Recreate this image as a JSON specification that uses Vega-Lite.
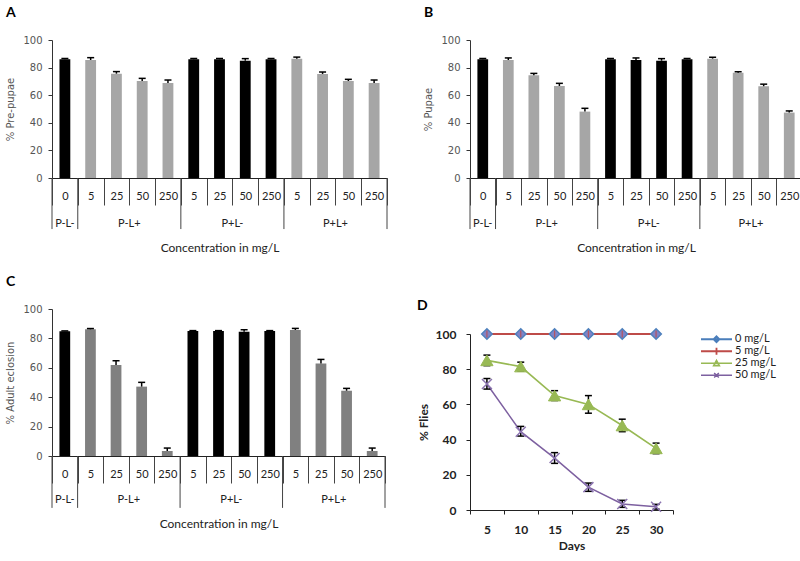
{
  "$schema": "https://vega.github.io/schema/vega-lite/v6.json",
  "background": "white",
  "padding": {"left": 5, "top": 6, "right": 0, "bottom": 0},
  "config": {"view": {"stroke": null}, "axis": {"grid": false}},
  "datasets": {
    "bars": [
      {"panel":"A","key":"0 P-L-","light":"L-","value":86,"hi":86.6},
      {"panel":"A","key":"5 P-L+","light":"L+","value":85.5,"hi":87.2},
      {"panel":"A","key":"25 P-L+","light":"L+","value":75.6,"hi":77.1},
      {"panel":"A","key":"50 P-L+","light":"L+","value":70.3,"hi":72.2},
      {"panel":"A","key":"250 P-L+","light":"L+","value":68.8,"hi":71},
      {"panel":"A","key":"5 P+L-","light":"L-","value":86,"hi":86.6},
      {"panel":"A","key":"25 P+L-","light":"L-","value":86,"hi":86.6},
      {"panel":"A","key":"50 P+L-","light":"L-","value":85,"hi":86.5},
      {"panel":"A","key":"250 P+L-","light":"L-","value":86,"hi":86.6},
      {"panel":"A","key":"5 P+L+","light":"L+","value":86.5,"hi":87.6},
      {"panel":"A","key":"25 P+L+","light":"L+","value":75.4,"hi":76.8},
      {"panel":"A","key":"50 P+L+","light":"L+","value":70.3,"hi":71.5},
      {"panel":"A","key":"250 P+L+","light":"L+","value":68.8,"hi":71},
      {"panel":"B","key":"0 P-L-","light":"L-","value":86,"hi":86.6},
      {"panel":"B","key":"5 P-L+","light":"L+","value":85.5,"hi":87},
      {"panel":"B","key":"25 P-L+","light":"L+","value":74.4,"hi":75.8},
      {"panel":"B","key":"50 P-L+","light":"L+","value":66.7,"hi":68.6},
      {"panel":"B","key":"250 P-L+","light":"L+","value":48.1,"hi":50.5},
      {"panel":"B","key":"5 P+L-","light":"L-","value":86,"hi":86.6},
      {"panel":"B","key":"25 P+L-","light":"L-","value":85.5,"hi":87},
      {"panel":"B","key":"50 P+L-","light":"L-","value":85,"hi":86.5},
      {"panel":"B","key":"250 P+L-","light":"L-","value":86,"hi":86.6},
      {"panel":"B","key":"5 P+L+","light":"L+","value":86.5,"hi":87.5},
      {"panel":"B","key":"25 P+L+","light":"L+","value":76.3,"hi":77},
      {"panel":"B","key":"50 P+L+","light":"L+","value":66.5,"hi":68},
      {"panel":"B","key":"250 P+L+","light":"L+","value":47.4,"hi":48.6},
      {"panel":"C","key":"0 P-L-","light":"L-","value":84.8,"hi":85.1},
      {"panel":"C","key":"5 P-L+","light":"L+","value":86.2,"hi":86.7},
      {"panel":"C","key":"25 P-L+","light":"L+","value":61.9,"hi":64.8},
      {"panel":"C","key":"50 P-L+","light":"L+","value":47.2,"hi":50.1},
      {"panel":"C","key":"250 P-L+","light":"L+","value":3.4,"hi":5.4},
      {"panel":"C","key":"5 P+L-","light":"L-","value":85,"hi":85.3},
      {"panel":"C","key":"25 P+L-","light":"L-","value":85,"hi":85.3},
      {"panel":"C","key":"50 P+L-","light":"L-","value":84.6,"hi":85.9},
      {"panel":"C","key":"250 P+L-","light":"L-","value":85,"hi":85.3},
      {"panel":"C","key":"5 P+L+","light":"L+","value":85.7,"hi":86.8},
      {"panel":"C","key":"25 P+L+","light":"L+","value":63,"hi":65.7},
      {"panel":"C","key":"50 P+L+","light":"L+","value":44.4,"hi":46},
      {"panel":"C","key":"250 P+L+","light":"L+","value":3.4,"hi":5.4}
    ],
    "groups": [
      {"group":"P-L-","key":"0 P-L-"},
      {"group":"P-L+","key":"50 P-L+"},
      {"group":"P+L-","key":"50 P+L-"},
      {"group":"P+L+","key":"50 P+L+"}
    ],
    "seps": [
      {"key":"0 P-L-"},
      {"key":"5 P-L+"},
      {"key":"5 P+L-"},
      {"key":"5 P+L+"}
    ],
    "sepEnd": [
      {"key":"250 P+L+"}
    ],
    "flies": [
      {"series":"0 mg/L","day":5,"value":100},
      {"series":"0 mg/L","day":10,"value":100},
      {"series":"0 mg/L","day":15,"value":100},
      {"series":"0 mg/L","day":20,"value":100},
      {"series":"0 mg/L","day":25,"value":100},
      {"series":"0 mg/L","day":30,"value":100},
      {"series":"5 mg/L","day":5,"value":100},
      {"series":"5 mg/L","day":10,"value":100},
      {"series":"5 mg/L","day":15,"value":100},
      {"series":"5 mg/L","day":20,"value":100},
      {"series":"5 mg/L","day":25,"value":100},
      {"series":"5 mg/L","day":30,"value":100},
      {"series":"25 mg/L","day":5,"value":85,"lo":82,"hi":88},
      {"series":"25 mg/L","day":10,"value":81.5,"lo":79,"hi":84},
      {"series":"25 mg/L","day":15,"value":65,"lo":62.2,"hi":67.8},
      {"series":"25 mg/L","day":20,"value":60,"lo":55,"hi":65},
      {"series":"25 mg/L","day":25,"value":48,"lo":44.5,"hi":51.6},
      {"series":"25 mg/L","day":30,"value":35,"lo":32,"hi":38},
      {"series":"50 mg/L","day":5,"value":71.6,"lo":68.7,"hi":74.7},
      {"series":"50 mg/L","day":10,"value":44.5,"lo":42,"hi":47.5},
      {"series":"50 mg/L","day":15,"value":29.5,"lo":26.5,"hi":32.6},
      {"series":"50 mg/L","day":20,"value":13,"lo":10.6,"hi":15.3},
      {"series":"50 mg/L","day":25,"value":3.4,"lo":1.5,"hi":5.5},
      {"series":"50 mg/L","day":30,"value":1.8,"lo":0.5,"hi":3.2}
    ]
  },
  "spacing": 29,
  "resolve": {"scale": {"color": "independent", "strokeWidth": "independent"}, "legend": {"color": "independent", "strokeWidth": "independent"}},
  "hconcat": [
    {
      "spacing": 21,
      "resolve": {"scale": {"color": "independent"}, "legend": {"color": "independent"}},
      "vconcat": [
        {
          "width": 335, "height": 138,
          "title": {"text": "A", "anchor": "start", "frame": "bounds", "font": "Lato", "fontSize": 14, "fontWeight": "bold", "color": "#000", "offset": 15},
          "layer": [
            {
              "data": {"name": "bars"}, "transform": [{"filter": "datum.panel === 'A'"}],
              "mark": {"type": "bar", "width": {"band": 0.42}, "clip": false},
              "encoding": {
                "x": {"field": "key", "type": "nominal", "title": "Concentration in mg/L",
                  "scale": {"domain": ["0 P-L-","5 P-L+","25 P-L+","50 P-L+","250 P-L+","5 P+L-","25 P+L-","50 P+L-","250 P+L-","5 P+L+","25 P+L+","50 P+L+","250 P+L+"], "paddingInner": 0, "paddingOuter": 0},
                  "axis": {"tickBand": "extent", "tickSize": 27, "tickColor": "#444", "domainColor": "#222", "labelAngle": 0, "labelBaseline": "middle", "labelPadding": -9, "labelOverlap": false, "labelFont": "Lato", "labelFontSize": 11, "labelColor": "#222", "labelExpr": "split(datum.label, ' ')[0]", "titleFont": "Lato", "titleFontSize": 12, "titleFontWeight": "normal", "titleColor": "#222", "titlePadding": 37}},
                "y": {"field": "value", "type": "quantitative", "title": "% Pre-pupae", "scale": {"domain": [0, 100]},
                  "axis": {"tickCount": 6, "labelOverlap": false, "tickSize": 4, "domainColor": "#333", "tickColor": "#333", "labelColor": "#555", "labelFont": "DejaVu Sans", "labelFontSize": 10, "labelPadding": 6, "titleFont": "DejaVu Sans", "titleFontSize": 10, "titleFontWeight": "normal", "titleColor": "#555", "titlePadding": 7}},
                "color": {"field": "light", "type": "nominal", "scale": {"domain": ["L-","L+"], "range": ["#000000","#a6a6a6"]}, "legend": null}
              }
            },
            {
              "data": {"name": "bars"}, "transform": [{"filter": "datum.panel === 'A'"}],
              "mark": {"type": "rule", "color": "#000", "strokeWidth": 1.5, "clip": false},
              "encoding": {
                "x": {"field": "key", "type": "nominal", "title": "Concentration in mg/L", "scale": {"domain": ["0 P-L-","5 P-L+","25 P-L+","50 P-L+","250 P-L+","5 P+L-","25 P+L-","50 P+L-","250 P+L-","5 P+L+","25 P+L+","50 P+L+","250 P+L+"], "paddingInner": 0, "paddingOuter": 0}},
                "y": {"field": "value", "type": "quantitative", "title": "% Pre-pupae", "scale": {"domain": [0, 100]}},
                "y2": {"field": "hi"}
              }
            },
            {
              "data": {"name": "bars"}, "transform": [{"filter": "datum.panel === 'A'"}],
              "mark": {"type": "tick", "color": "#000", "size": 7, "thickness": 1.5, "opacity": 1, "clip": false},
              "encoding": {
                "x": {"field": "key", "type": "nominal", "title": "Concentration in mg/L", "scale": {"domain": ["0 P-L-","5 P-L+","25 P-L+","50 P-L+","250 P-L+","5 P+L-","25 P+L-","50 P+L-","250 P+L-","5 P+L+","25 P+L+","50 P+L+","250 P+L+"], "paddingInner": 0, "paddingOuter": 0}},
                "y": {"field": "hi", "type": "quantitative", "title": "% Pre-pupae", "scale": {"domain": [0, 100]}}
              }
            },
            {
              "data": {"name": "seps"},
              "mark": {"type": "rule", "color": "#444", "strokeWidth": 1, "clip": false},
              "encoding": {
                "x": {"field": "key", "type": "nominal", "bandPosition": 0, "title": "Concentration in mg/L", "scale": {"domain": ["0 P-L-","5 P-L+","25 P-L+","50 P-L+","250 P-L+","5 P+L-","25 P+L-","50 P+L-","250 P+L-","5 P+L+","25 P+L+","50 P+L+","250 P+L+"], "paddingInner": 0, "paddingOuter": 0}},
                "y": {"datum": 0, "type": "quantitative", "title": "% Pre-pupae", "scale": {"domain": [0, 100]}},
                "y2": {"datum": -37}
              }
            },
            {
              "data": {"name": "sepEnd"},
              "mark": {"type": "rule", "color": "#444", "strokeWidth": 1, "clip": false},
              "encoding": {
                "x": {"field": "key", "type": "nominal", "bandPosition": 1, "title": "Concentration in mg/L", "scale": {"domain": ["0 P-L-","5 P-L+","25 P-L+","50 P-L+","250 P-L+","5 P+L-","25 P+L-","50 P+L-","250 P+L-","5 P+L+","25 P+L+","50 P+L+","250 P+L+"], "paddingInner": 0, "paddingOuter": 0}},
                "y": {"datum": 0, "type": "quantitative", "title": "% Pre-pupae", "scale": {"domain": [0, 100]}},
                "y2": {"datum": -37}
              }
            },
            {
              "data": {"name": "groups"}, "transform": [{"filter": "datum.group === 'P-L-'"}],
              "mark": {"type": "text", "font": "Lato", "fontSize": 11, "color": "#222", "baseline": "middle", "clip": false},
              "encoding": {
                "x": {"field": "key", "type": "nominal", "bandPosition": 0.5, "title": "Concentration in mg/L", "scale": {"domain": ["0 P-L-","5 P-L+","25 P-L+","50 P-L+","250 P-L+","5 P+L-","25 P+L-","50 P+L-","250 P+L-","5 P+L+","25 P+L+","50 P+L+","250 P+L+"], "paddingInner": 0, "paddingOuter": 0}},
                "y": {"datum": -33, "type": "quantitative", "title": "% Pre-pupae", "scale": {"domain": [0, 100]}},
                "text": {"field": "group"}
              }
            },
            {
              "data": {"name": "groups"}, "transform": [{"filter": "datum.group !== 'P-L-'"}],
              "mark": {"type": "text", "font": "Lato", "fontSize": 11, "color": "#222", "baseline": "middle", "clip": false},
              "encoding": {
                "x": {"field": "key", "type": "nominal", "bandPosition": 0, "title": "Concentration in mg/L", "scale": {"domain": ["0 P-L-","5 P-L+","25 P-L+","50 P-L+","250 P-L+","5 P+L-","25 P+L-","50 P+L-","250 P+L-","5 P+L+","25 P+L+","50 P+L+","250 P+L+"], "paddingInner": 0, "paddingOuter": 0}},
                "y": {"datum": -33, "type": "quantitative", "title": "% Pre-pupae", "scale": {"domain": [0, 100]}},
                "text": {"field": "group"}
              }
            }
          ]
        },
        {
          "width": 333, "height": 147,
          "title": {"text": "C", "anchor": "start", "frame": "bounds", "font": "Lato", "fontSize": 14, "fontWeight": "bold", "color": "#000", "offset": 15},
          "layer": [
            {
              "data": {"name": "bars"}, "transform": [{"filter": "datum.panel === 'C'"}],
              "mark": {"type": "bar", "width": {"band": 0.42}, "clip": false},
              "encoding": {
                "x": {"field": "key", "type": "nominal", "title": "Concentration in mg/L",
                  "scale": {"domain": ["0 P-L-","5 P-L+","25 P-L+","50 P-L+","250 P-L+","5 P+L-","25 P+L-","50 P+L-","250 P+L-","5 P+L+","25 P+L+","50 P+L+","250 P+L+"], "paddingInner": 0, "paddingOuter": 0},
                  "axis": {"tickBand": "extent", "tickSize": 27, "tickColor": "#444", "domainColor": "#222", "labelAngle": 0, "labelBaseline": "middle", "labelPadding": -9, "labelOverlap": false, "labelFont": "Lato", "labelFontSize": 11, "labelColor": "#222", "labelExpr": "split(datum.label, ' ')[0]", "titleFont": "Lato", "titleFontSize": 12, "titleFontWeight": "normal", "titleColor": "#222", "titlePadding": 35}},
                "y": {"field": "value", "type": "quantitative", "title": "% Adult  eclosion", "scale": {"domain": [0, 100]},
                  "axis": {"tickCount": 6, "labelOverlap": false, "tickSize": 4, "domainColor": "#333", "tickColor": "#333", "labelColor": "#555", "labelFont": "DejaVu Sans", "labelFontSize": 10, "labelPadding": 6, "titleFont": "DejaVu Sans", "titleFontSize": 10, "titleFontWeight": "normal", "titleColor": "#555", "titlePadding": 7}},
                "color": {"field": "light", "type": "nominal", "scale": {"domain": ["L-","L+"], "range": ["#000000","#808080"]}, "legend": null}
              }
            },
            {
              "data": {"name": "bars"}, "transform": [{"filter": "datum.panel === 'C'"}],
              "mark": {"type": "rule", "color": "#000", "strokeWidth": 1.5, "clip": false},
              "encoding": {
                "x": {"field": "key", "type": "nominal", "title": "Concentration in mg/L", "scale": {"domain": ["0 P-L-","5 P-L+","25 P-L+","50 P-L+","250 P-L+","5 P+L-","25 P+L-","50 P+L-","250 P+L-","5 P+L+","25 P+L+","50 P+L+","250 P+L+"], "paddingInner": 0, "paddingOuter": 0}},
                "y": {"field": "value", "type": "quantitative", "title": "% Adult  eclosion", "scale": {"domain": [0, 100]}},
                "y2": {"field": "hi"}
              }
            },
            {
              "data": {"name": "bars"}, "transform": [{"filter": "datum.panel === 'C'"}],
              "mark": {"type": "tick", "color": "#000", "size": 7, "thickness": 1.5, "opacity": 1, "clip": false},
              "encoding": {
                "x": {"field": "key", "type": "nominal", "title": "Concentration in mg/L", "scale": {"domain": ["0 P-L-","5 P-L+","25 P-L+","50 P-L+","250 P-L+","5 P+L-","25 P+L-","50 P+L-","250 P+L-","5 P+L+","25 P+L+","50 P+L+","250 P+L+"], "paddingInner": 0, "paddingOuter": 0}},
                "y": {"field": "hi", "type": "quantitative", "title": "% Adult  eclosion", "scale": {"domain": [0, 100]}}
              }
            },
            {
              "data": {"name": "seps"},
              "mark": {"type": "rule", "color": "#444", "strokeWidth": 1, "clip": false},
              "encoding": {
                "x": {"field": "key", "type": "nominal", "bandPosition": 0, "title": "Concentration in mg/L", "scale": {"domain": ["0 P-L-","5 P-L+","25 P-L+","50 P-L+","250 P-L+","5 P+L-","25 P+L-","50 P+L-","250 P+L-","5 P+L+","25 P+L+","50 P+L+","250 P+L+"], "paddingInner": 0, "paddingOuter": 0}},
                "y": {"datum": 0, "type": "quantitative", "title": "% Adult  eclosion", "scale": {"domain": [0, 100]}},
                "y2": {"datum": -35.3}
              }
            },
            {
              "data": {"name": "sepEnd"},
              "mark": {"type": "rule", "color": "#444", "strokeWidth": 1, "clip": false},
              "encoding": {
                "x": {"field": "key", "type": "nominal", "bandPosition": 1, "title": "Concentration in mg/L", "scale": {"domain": ["0 P-L-","5 P-L+","25 P-L+","50 P-L+","250 P-L+","5 P+L-","25 P+L-","50 P+L-","250 P+L-","5 P+L+","25 P+L+","50 P+L+","250 P+L+"], "paddingInner": 0, "paddingOuter": 0}},
                "y": {"datum": 0, "type": "quantitative", "title": "% Adult  eclosion", "scale": {"domain": [0, 100]}},
                "y2": {"datum": -35.3}
              }
            },
            {
              "data": {"name": "groups"}, "transform": [{"filter": "datum.group === 'P-L-'"}],
              "mark": {"type": "text", "font": "Lato", "fontSize": 11, "color": "#222", "baseline": "middle", "clip": false},
              "encoding": {
                "x": {"field": "key", "type": "nominal", "bandPosition": 0.5, "title": "Concentration in mg/L", "scale": {"domain": ["0 P-L-","5 P-L+","25 P-L+","50 P-L+","250 P-L+","5 P+L-","25 P+L-","50 P+L-","250 P+L-","5 P+L+","25 P+L+","50 P+L+","250 P+L+"], "paddingInner": 0, "paddingOuter": 0}},
                "y": {"datum": -30, "type": "quantitative", "title": "% Adult  eclosion", "scale": {"domain": [0, 100]}},
                "text": {"field": "group"}
              }
            },
            {
              "data": {"name": "groups"}, "transform": [{"filter": "datum.group !== 'P-L-'"}],
              "mark": {"type": "text", "font": "Lato", "fontSize": 11, "color": "#222", "baseline": "middle", "clip": false},
              "encoding": {
                "x": {"field": "key", "type": "nominal", "bandPosition": 0, "title": "Concentration in mg/L", "scale": {"domain": ["0 P-L-","5 P-L+","25 P-L+","50 P-L+","250 P-L+","5 P+L-","25 P+L-","50 P+L-","250 P+L-","5 P+L+","25 P+L+","50 P+L+","250 P+L+"], "paddingInner": 0, "paddingOuter": 0}},
                "y": {"datum": -30, "type": "quantitative", "title": "% Adult  eclosion", "scale": {"domain": [0, 100]}},
                "text": {"field": "group"}
              }
            }
          ]
        }
      ]
    },
    {
      "spacing": 44,
      "resolve": {"scale": {"color": "independent", "strokeWidth": "independent"}, "legend": {"color": "independent", "strokeWidth": "independent"}},
      "vconcat": [
        {
          "width": 332, "height": 138,
          "title": {"text": "B", "anchor": "start", "frame": "bounds", "font": "Lato", "fontSize": 14, "fontWeight": "bold", "color": "#000", "offset": 15},
          "layer": [
            {
              "data": {"name": "bars"}, "transform": [{"filter": "datum.panel === 'B'"}],
              "mark": {"type": "bar", "width": {"band": 0.42}, "clip": false},
              "encoding": {
                "x": {"field": "key", "type": "nominal", "title": "Concentration in mg/L",
                  "scale": {"domain": ["0 P-L-","5 P-L+","25 P-L+","50 P-L+","250 P-L+","5 P+L-","25 P+L-","50 P+L-","250 P+L-","5 P+L+","25 P+L+","50 P+L+","250 P+L+"], "paddingInner": 0, "paddingOuter": 0},
                  "axis": {"tickBand": "extent", "tickSize": 27, "tickColor": "#444", "domainColor": "#222", "labelAngle": 0, "labelBaseline": "middle", "labelPadding": -9, "labelOverlap": false, "labelFont": "Lato", "labelFontSize": 11, "labelColor": "#222", "labelExpr": "split(datum.label, ' ')[0]", "titleFont": "Lato", "titleFontSize": 12, "titleFontWeight": "normal", "titleColor": "#222", "titlePadding": 37}},
                "y": {"field": "value", "type": "quantitative", "title": "% Pupae", "scale": {"domain": [0, 100]},
                  "axis": {"tickCount": 6, "labelOverlap": false, "tickSize": 4, "domainColor": "#333", "tickColor": "#333", "labelColor": "#555", "labelFont": "DejaVu Sans", "labelFontSize": 10, "labelPadding": 6, "titleFont": "DejaVu Sans", "titleFontSize": 10, "titleFontWeight": "normal", "titleColor": "#555", "titlePadding": 7}},
                "color": {"field": "light", "type": "nominal", "scale": {"domain": ["L-","L+"], "range": ["#000000","#a6a6a6"]}, "legend": null}
              }
            },
            {
              "data": {"name": "bars"}, "transform": [{"filter": "datum.panel === 'B'"}],
              "mark": {"type": "rule", "color": "#000", "strokeWidth": 1.5, "clip": false},
              "encoding": {
                "x": {"field": "key", "type": "nominal", "title": "Concentration in mg/L", "scale": {"domain": ["0 P-L-","5 P-L+","25 P-L+","50 P-L+","250 P-L+","5 P+L-","25 P+L-","50 P+L-","250 P+L-","5 P+L+","25 P+L+","50 P+L+","250 P+L+"], "paddingInner": 0, "paddingOuter": 0}},
                "y": {"field": "value", "type": "quantitative", "title": "% Pupae", "scale": {"domain": [0, 100]}},
                "y2": {"field": "hi"}
              }
            },
            {
              "data": {"name": "bars"}, "transform": [{"filter": "datum.panel === 'B'"}],
              "mark": {"type": "tick", "color": "#000", "size": 7, "thickness": 1.5, "opacity": 1, "clip": false},
              "encoding": {
                "x": {"field": "key", "type": "nominal", "title": "Concentration in mg/L", "scale": {"domain": ["0 P-L-","5 P-L+","25 P-L+","50 P-L+","250 P-L+","5 P+L-","25 P+L-","50 P+L-","250 P+L-","5 P+L+","25 P+L+","50 P+L+","250 P+L+"], "paddingInner": 0, "paddingOuter": 0}},
                "y": {"field": "hi", "type": "quantitative", "title": "% Pupae", "scale": {"domain": [0, 100]}}
              }
            },
            {
              "data": {"name": "seps"},
              "mark": {"type": "rule", "color": "#444", "strokeWidth": 1, "clip": false},
              "encoding": {
                "x": {"field": "key", "type": "nominal", "bandPosition": 0, "title": "Concentration in mg/L", "scale": {"domain": ["0 P-L-","5 P-L+","25 P-L+","50 P-L+","250 P-L+","5 P+L-","25 P+L-","50 P+L-","250 P+L-","5 P+L+","25 P+L+","50 P+L+","250 P+L+"], "paddingInner": 0, "paddingOuter": 0}},
                "y": {"datum": 0, "type": "quantitative", "title": "% Pupae", "scale": {"domain": [0, 100]}},
                "y2": {"datum": -37}
              }
            },
            {
              "data": {"name": "sepEnd"},
              "mark": {"type": "rule", "color": "#444", "strokeWidth": 1, "clip": false},
              "encoding": {
                "x": {"field": "key", "type": "nominal", "bandPosition": 1, "title": "Concentration in mg/L", "scale": {"domain": ["0 P-L-","5 P-L+","25 P-L+","50 P-L+","250 P-L+","5 P+L-","25 P+L-","50 P+L-","250 P+L-","5 P+L+","25 P+L+","50 P+L+","250 P+L+"], "paddingInner": 0, "paddingOuter": 0}},
                "y": {"datum": 0, "type": "quantitative", "title": "% Pupae", "scale": {"domain": [0, 100]}},
                "y2": {"datum": -37}
              }
            },
            {
              "data": {"name": "groups"}, "transform": [{"filter": "datum.group === 'P-L-'"}],
              "mark": {"type": "text", "font": "Lato", "fontSize": 11, "color": "#222", "baseline": "middle", "clip": false},
              "encoding": {
                "x": {"field": "key", "type": "nominal", "bandPosition": 0.5, "title": "Concentration in mg/L", "scale": {"domain": ["0 P-L-","5 P-L+","25 P-L+","50 P-L+","250 P-L+","5 P+L-","25 P+L-","50 P+L-","250 P+L-","5 P+L+","25 P+L+","50 P+L+","250 P+L+"], "paddingInner": 0, "paddingOuter": 0}},
                "y": {"datum": -33, "type": "quantitative", "title": "% Pupae", "scale": {"domain": [0, 100]}},
                "text": {"field": "group"}
              }
            },
            {
              "data": {"name": "groups"}, "transform": [{"filter": "datum.group !== 'P-L-'"}],
              "mark": {"type": "text", "font": "Lato", "fontSize": 11, "color": "#222", "baseline": "middle", "clip": false},
              "encoding": {
                "x": {"field": "key", "type": "nominal", "bandPosition": 0, "title": "Concentration in mg/L", "scale": {"domain": ["0 P-L-","5 P-L+","25 P-L+","50 P-L+","250 P-L+","5 P+L-","25 P+L-","50 P+L-","250 P+L-","5 P+L+","25 P+L+","50 P+L+","250 P+L+"], "paddingInner": 0, "paddingOuter": 0}},
                "y": {"datum": -33, "type": "quantitative", "title": "% Pupae", "scale": {"domain": [0, 100]}},
                "text": {"field": "group"}
              }
            }
          ]
        },
        {
          "width": 203, "height": 176,
          "title": {"text": "D", "anchor": "start", "frame": "bounds", "font": "Lato", "fontSize": 14, "fontWeight": "bold", "color": "#000", "offset": 13},
          "layer": [
            {
              "data": {"name": "flies"},
              "mark": {"type": "line", "clip": false},
              "encoding": {
                "x": {"field": "day", "type": "ordinal", "bandPosition": 0.5, "title": "Days",
                  "scale": {"type": "band", "paddingInner": 0, "paddingOuter": 0},
                  "axis": {"tickBand": "extent", "tickSize": 4, "domainColor": "#222", "tickColor": "#222", "labelAngle": 0, "labelFont": "Lato", "labelFontSize": 12, "labelFontWeight": "bold", "labelColor": "#222", "labelPadding": 10, "titleFont": "Lato", "titleFontSize": 12, "titleFontWeight": "bold", "titleColor": "#222", "titlePadding": 5}},
                "y": {"field": "value", "type": "quantitative", "title": "% Flies", "scale": {"domain": [0, 100]},
                  "axis": {"tickCount": 6, "labelOverlap": false, "tickSize": 4, "domainColor": "#222", "tickColor": "#222", "labelFont": "Lato", "labelFontSize": 12, "labelFontWeight": "bold", "labelColor": "#222", "labelPadding": 10, "titleFont": "Lato", "titleFontSize": 12, "titleFontWeight": "bold", "titleColor": "#222", "titlePadding": 5}},
                "color": {"field": "series", "type": "nominal",
                  "scale": {"domain": ["0 mg/L","5 mg/L","25 mg/L","50 mg/L"], "range": ["#4a7ebb","#be4b48","#98b954","#7d60a0"]},
                  "legend": {"title": null, "orient": "right", "offset": 27, "padding": 0, "symbolType": "stroke", "symbolSize": 961, "symbolStrokeWidth": 3, "clipHeight": 10.5, "rowPadding": 0, "labelFont": "Lato", "labelFontSize": 11, "labelColor": "#222", "labelOffset": 2,
                    "encode": {"symbols": {"update": {"shape": {"signal": "datum.value === '0 mg/L' ? 'M-1,0L1,0M0,-0.18L0.18,0L0,0.18L-0.18,0Z' : datum.value === '5 mg/L' ? 'M-1,0L1,0M0,-0.22L0,0.22' : datum.value === '25 mg/L' ? 'M-1,0L1,0M-0.18,0.15L0,-0.18L0.18,0.15Z' : 'M-1,0L1,0M-0.15,-0.15L0.15,0.15M-0.15,0.15L0.15,-0.15'"}}}}}},
                "strokeWidth": {"field": "series", "type": "nominal", "scale": {"domain": ["0 mg/L","5 mg/L","25 mg/L","50 mg/L"], "range": [2, 1.5, 3.5, 3.5]}, "legend": null}
              }
            },
            {
              "data": {"name": "flies"}, "transform": [{"filter": "isValid(datum.lo)"}],
              "mark": {"type": "rule", "color": "#000", "strokeWidth": 1.5, "clip": false},
              "encoding": {
                "x": {"field": "day", "type": "ordinal", "bandPosition": 0.5, "title": "Days", "scale": {"type": "band", "paddingInner": 0, "paddingOuter": 0}},
                "y": {"field": "lo", "type": "quantitative", "title": "% Flies", "scale": {"domain": [0, 100]}},
                "y2": {"field": "hi"}
              }
            },
            {
              "data": {"name": "flies"}, "transform": [{"filter": "isValid(datum.lo)"}],
              "mark": {"type": "tick", "color": "#000", "size": 7, "thickness": 1.5, "opacity": 1, "clip": false},
              "encoding": {
                "x": {"field": "day", "type": "ordinal", "bandPosition": 0.5, "title": "Days", "scale": {"type": "band", "paddingInner": 0, "paddingOuter": 0}},
                "y": {"field": "lo", "type": "quantitative", "title": "% Flies", "scale": {"domain": [0, 100]}}
              }
            },
            {
              "data": {"name": "flies"}, "transform": [{"filter": "isValid(datum.lo)"}],
              "mark": {"type": "tick", "color": "#000", "size": 7, "thickness": 1.5, "opacity": 1, "clip": false},
              "encoding": {
                "x": {"field": "day", "type": "ordinal", "bandPosition": 0.5, "title": "Days", "scale": {"type": "band", "paddingInner": 0, "paddingOuter": 0}},
                "y": {"field": "hi", "type": "quantitative", "title": "% Flies", "scale": {"domain": [0, 100]}}
              }
            },
            {
              "data": {"name": "flies"}, "transform": [{"filter": "datum.series === '0 mg/L'"}],
              "mark": {"type": "point", "shape": "diamond", "size": 110, "filled": true, "opacity": 1, "fill": "#8083c6", "stroke": "#4f81bd", "strokeWidth": 1.5, "clip": false},
              "encoding": {
                "x": {"field": "day", "type": "ordinal", "bandPosition": 0.5, "title": "Days", "scale": {"type": "band", "paddingInner": 0, "paddingOuter": 0}},
                "y": {"field": "value", "type": "quantitative", "title": "% Flies", "scale": {"domain": [0, 100]}}
              }
            },
            {
              "data": {"name": "flies"}, "transform": [{"filter": "datum.series === '5 mg/L'"}],
              "mark": {"type": "point", "shape": "M0,-1L0,1", "size": 50, "filled": false, "opacity": 0.8, "stroke": "#be4b48", "strokeWidth": 1.2, "clip": false},
              "encoding": {
                "x": {"field": "day", "type": "ordinal", "bandPosition": 0.5, "title": "Days", "scale": {"type": "band", "paddingInner": 0, "paddingOuter": 0}},
                "y": {"field": "value", "type": "quantitative", "title": "% Flies", "scale": {"domain": [0, 100]}}
              }
            },
            {
              "data": {"name": "flies"}, "transform": [{"filter": "datum.series === '25 mg/L'"}],
              "mark": {"type": "point", "shape": "triangle-up", "size": 150, "filled": true, "opacity": 1, "fill": "#98b954", "stroke": "#98b954", "strokeWidth": 1, "clip": false},
              "encoding": {
                "x": {"field": "day", "type": "ordinal", "bandPosition": 0.5, "title": "Days", "scale": {"type": "band", "paddingInner": 0, "paddingOuter": 0}},
                "y": {"field": "value", "type": "quantitative", "title": "% Flies", "scale": {"domain": [0, 100]}}
              }
            },
            {
              "data": {"name": "flies"}, "transform": [{"filter": "datum.series === '50 mg/L'"}],
              "mark": {"type": "point", "shape": "M-1,-1L1,1M-1,1L1,-1", "size": 100, "filled": false, "opacity": 1, "stroke": "#8b74b0", "strokeWidth": 1.5, "clip": false},
              "encoding": {
                "x": {"field": "day", "type": "ordinal", "bandPosition": 0.5, "title": "Days", "scale": {"type": "band", "paddingInner": 0, "paddingOuter": 0}},
                "y": {"field": "value", "type": "quantitative", "title": "% Flies", "scale": {"domain": [0, 100]}}
              }
            }
          ]
        }
      ]
    }
  ]
}
